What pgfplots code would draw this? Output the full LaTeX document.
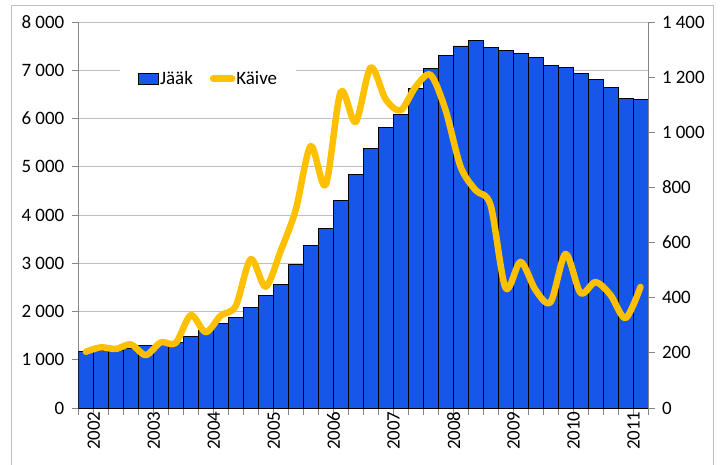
\documentclass[border=0pt]{standalone}
\usepackage{pgfplots}
\pgfplotsset{compat=1.18}
\usepackage{fontspec}
\setmainfont{Carlito}
\definecolor{barblue}{RGB}{22,86,232}
\definecolor{lineorange}{RGB}{255,192,0}
\definecolor{gridgray}{RGB}{191,191,191}
\definecolor{axisgray}{RGB}{134,134,134}
\newcommand{\lblfont}{\fontsize{19}{22}\selectfont}
\pgfplotsset{
  barleg/.style={legend image code/.code={\draw[##1] (0bp,-5.5bp) rectangle (20bp,5.5bp);}},
  lineleg/.style={legend image code/.code={\draw[##1] (3bp,0bp) -- (22bp,0bp);}},
}
\pgfplotstableread{
x y
1 1170
2 1200
3 1190
4 1240
5 1295
6 1300
7 1360
8 1492
9 1600
10 1745
11 1877
12 2087
13 2335
14 2570
15 2978
16 3378
17 3723
18 4311
19 4843
20 5380
21 5810
22 6093
23 6625
24 7040
25 7316
26 7503
27 7620
28 7467
29 7405
30 7343
31 7268
32 7102
33 7067
34 6936
35 6812
36 6638
37 6410
38 6390
}\jaak
\pgfplotstableread{
x y
1 204
2 220
3 214
4 231
5 192
6 238
7 236
8 337
9 275
10 335
11 370
12 540
13 440
14 570
15 718
16 950
17 809
18 1146
19 1037
20 1235
21 1120
22 1080
23 1165
24 1208
25 1080
26 875
27 790
28 736
29 435
30 530
31 428
32 384
33 559
34 417
35 457
36 410
37 326
38 439
}\kaive
\begin{document}
\begin{tikzpicture}
\useasboundingbox (0bp,0bp) rectangle (724bp,-465bp);
\draw[color=gridgray, line width=1bp] (11.5bp,-480bp) -- (11.5bp,-5.5bp) -- (713.5bp,-5.5bp) -- (713.5bp,-480bp);
\begin{axis}[
  at={(78.3bp,-408bp)}, anchor=south west,
  scale only axis, width=569.7bp, height=386bp,
  xmin=0.5, xmax=38.5, ymin=0, ymax=8000,
  ybar, bar width=15bp,
  axis x line*=bottom, axis y line*=left,
  axis line style={axisgray, line width=1bp},
  tick align=outside,
  major tick length=6.5bp,
  tick style={axisgray, line width=1bp},
  xtick={0.5,1.5,...,38.5},
  xticklabels={},
  extra x ticks={1,5,9,13,17,21,25,29,33,37},
  extra x tick labels={2002,2003,2004,2005,2006,2007,2008,2009,2010,2011},
  extra x tick style={major tick length=0pt, tick label style={rotate=90, anchor=east, font=\lblfont, yshift=-8bp}},
  ytick={0,1000,...,8000},
  yticklabels={0,1 000,2 000,3 000,4 000,5 000,6 000,7 000,8 000},
  yticklabel style={font=\lblfont, xshift=-4bp},
  ymajorgrids,
  grid style={gridgray, line width=1bp},
  /pgf/number format/assume math mode=true,
]
\addplot[fill=barblue, draw=black, line width=0.9bp] table {\jaak};
\end{axis}
\begin{axis}[
  at={(78.3bp,-408bp)}, anchor=south west,
  scale only axis, width=569.7bp, height=386bp,
  xmin=0.5, xmax=38.5, ymin=0, ymax=1400,
  axis x line=none, axis y line*=right,
  axis line style={axisgray, line width=1bp},
  tick align=outside,
  major tick length=6.5bp,
  tick style={axisgray, line width=1bp},
  ytick={0,200,...,1400},
  yticklabels={0,200,400,600,800,1 000,1 200,1 400},
  yticklabel style={font=\lblfont, anchor=west, xshift=4bp},
  /pgf/number format/assume math mode=true,
  legend columns=2,
  legend style={draw=none, fill=white, font=\lblfont,
    at={(axis description cs:0.0732,0.8536)}, anchor=west,
    inner xsep=18bp, inner ysep=5bp,
    nodes={inner sep=1bp},
    /tikz/every even column/.append style={column sep=16bp}},
]
\addlegendimage{barleg, fill=barblue, draw=black, line width=0.9bp}
\addplot[lineleg, lineorange, line width=6.5bp, smooth, line cap=round, line join=round] table {\kaive};
\legend{Jääk,Käive}
\end{axis}
\end{tikzpicture}
\end{document}
